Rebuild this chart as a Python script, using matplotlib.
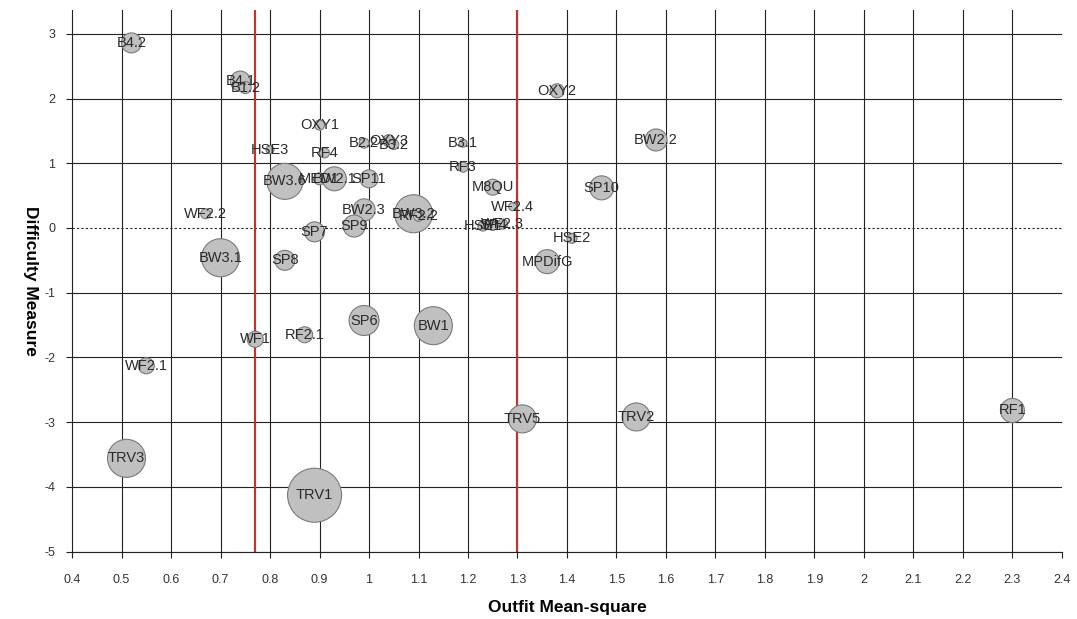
import numpy as np
import matplotlib.pyplot as plt

plt.rcParams['font.family'] = ['Liberation Sans', 'DejaVu Sans']
plt.rcParams['axes.unicode_minus'] = False

# item fit: outfit mean-square, difficulty, bubble radius (px)
items = ['B4.2', 'B4.1', 'B1.2', 'OXY1', 'HSE3', 'RF4', 'B2.2', 'OXY3', 'B3.2', 'B3.1',
         'RF3', 'M8QU', 'BW3.6', 'MED1', 'BW2.1', 'SP11', 'BW2.3', 'SP9', 'SP7', 'BW3.2',
         'RF2.2', 'HSE1', 'SP4', 'WF2.3', 'WF2.4', 'HSE2', 'MPDifG', 'SP10', 'BW2.2', 'OXY2',
         'WF2.2', 'BW3.1', 'SP8', 'WF1', 'RF2.1', 'SP6', 'BW1', 'WF2.1', 'TRV5', 'TRV2',
         'RF1', 'TRV3', 'TRV1']
outfit = [0.52, 0.74, 0.75, 0.90, 0.80, 0.91, 0.99, 1.04, 1.05, 1.19,
          1.19, 1.25, 0.83, 0.90, 0.93, 1.00, 0.99, 0.97, 0.89, 1.09,
          1.10, 1.23, 1.25, 1.27, 1.29, 1.41, 1.36, 1.47, 1.58, 1.38,
          0.67, 0.70, 0.83, 0.77, 0.87, 0.99, 1.13, 0.55, 1.31, 1.54,
          2.30, 0.51, 0.89]
difficulty = [2.86, 2.27, 2.17, 1.59, 1.21, 1.16, 1.31, 1.35, 1.29, 1.31,
              0.94, 0.63, 0.72, 0.76, 0.76, 0.76, 0.28, 0.03, -0.06, 0.22,
              0.18, 0.03, 0.04, 0.06, 0.33, -0.16, -0.52, 0.62, 1.36, 2.12,
              0.22, -0.46, -0.50, -1.72, -1.65, -1.43, -1.51, -2.13, -2.95, -2.92,
              -2.82, -3.56, -4.13]
radius = [10, 10, 6, 5, 4, 5, 5, 6, 5, 4,
          5, 8, 18, 6, 12, 9, 11, 11, 10, 19,
          5, 5, 5, 5, 4, 5, 12, 12, 11, 7,
          5, 19, 10, 8, 8, 15, 19, 8, 14, 14,
          12, 19, 27]

lower_limit = 0.77
upper_limit = 1.3
x_ticks = np.round(np.arange(0.4, 2.41, 0.1), 1)
y_ticks = np.arange(-5, 4, 1)

fig = plt.figure(figsize=(10.77, 6.19), dpi=100)
ax = fig.add_axes([0.0669, 0.109, 0.9191, 0.875])

ax.set_xlim(0.4, 2.4)
ax.set_ylim(-5, 3.37)
ax.set_xticks(x_ticks)
ax.set_xticklabels(['%g' % v for v in x_ticks])
ax.set_yticks(y_ticks)

for v in x_ticks[1:-1]:
    ax.axvline(v, color='#222222', lw=0.8, zorder=0)
for v in y_ticks:
    if v != 0:
        ax.axhline(v, color='#222222', lw=0.8, zorder=0)
ax.axhline(0, color='#222222', lw=0.8, ls=(0, (2, 2)), zorder=0)

ax.axvline(lower_limit, color='#b03a3a', lw=1.6, zorder=1)
ax.axvline(upper_limit, color='#b03a3a', lw=1.6, zorder=1)

sizes = [(2 * r * 0.72) ** 2 for r in radius]
ax.scatter(outfit, difficulty, s=sizes, c='#c0c0c0', edgecolors='#7a7a7a',
           linewidths=0.8, zorder=2)
for name, xv, yv in zip(items, outfit, difficulty):
    ax.text(xv, yv, name, ha='center', va='center', fontsize=10.5,
            color='#2a2a2a', zorder=3)

for side in ['top', 'right']:
    ax.spines[side].set_visible(False)
ax.spines['left'].set_color('#222222')
ax.spines['bottom'].set_color('#222222')
ax.tick_params(axis='both', length=4, color='#222222', labelsize=9,
               labelcolor='#333333')
ax.tick_params(axis='x', pad=12)
ax.tick_params(axis='y', pad=8)

ax.set_xlabel('Outfit Mean-square', fontsize=12.5, fontweight='bold', labelpad=10)
ax.set_ylabel('Difficulty Measure', fontsize=12.5, fontweight='bold',
              rotation=270, va='bottom')
ax.yaxis.set_label_coords(-0.05, 0.5)

fig.savefig('out.png', dpi=100)
